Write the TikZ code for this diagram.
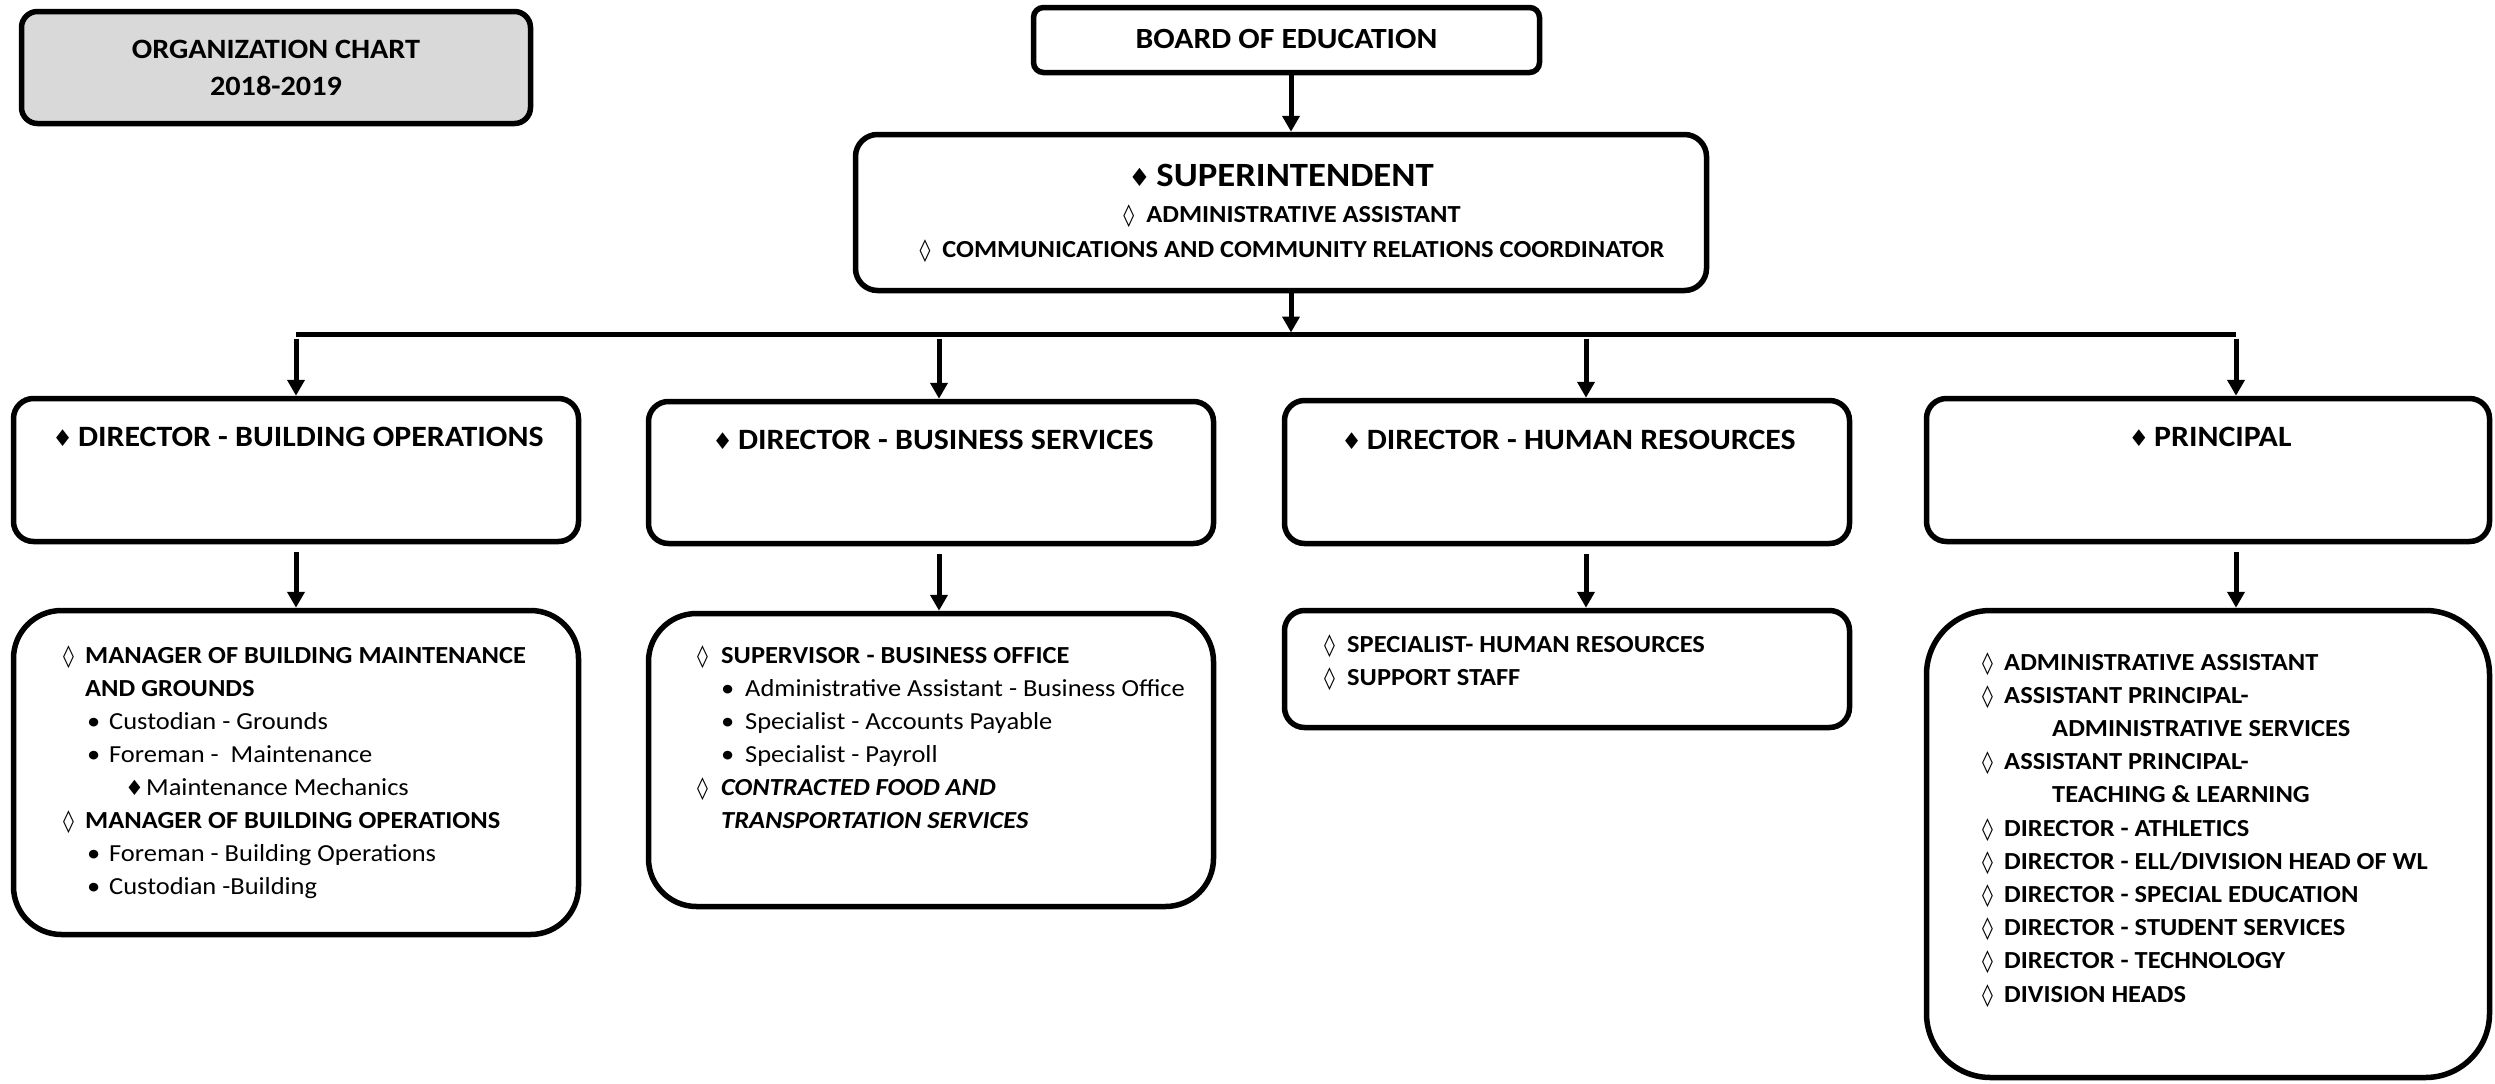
\documentclass[tikz,border=0pt]{standalone}
\usepackage{fontspec}
\setmainfont{Carlito}[FakeStretch=1.08]
\newfontfamily\symf{DejaVu Sans}
\usetikzlibrary{arrows.meta,calc}
\definecolor{boxgray}{HTML}{D9D9D9}
\newcommand{\fsz}[1]{\fontsize{#1}{#1}\selectfont}
\newcommand{\lz}{{\symf\fsz{22}◊}}
\newcommand{\bdm}[1]{{\symf\fsz{#1}♦}}
\tikzset{
  box/.style={draw, line width=5.5pt, rounded corners=#1, inner sep=0pt, fill=white},
  arr/.style={line width=5pt, -{Triangle[width=17pt,length=16pt]}},
  ctr/.style={inner sep=0pt, anchor=base},
  row/.style={inner sep=0pt, anchor=base west, font=\fsz{24.5}},
}
\begin{document}
\begin{tikzpicture}[x=1pt,y=-1pt]
\useasboundingbox (0,0) rectangle (2495,1084);
% boxes
\node[box=16pt, fill=boxgray, minimum width=509pt, minimum height=112pt] (org) at (276,67.5) {};
\node[box=10pt, minimum width=506pt, minimum height=65pt] (board) at (1286.5,40) {};
\node[box=22pt, minimum width=851pt, minimum height=156pt] (super) at (1281,212.5) {};
\node[box=20pt, minimum width=565pt, minimum height=143pt] (bo2) at (296,470) {};
\node[box=20pt, minimum width=565pt, minimum height=142pt] (bs2) at (931,472.5) {};
\node[box=20pt, minimum width=565pt, minimum height=143pt] (hr2) at (1567,472) {};
\node[box=20pt, minimum width=563pt, minimum height=143pt] (pr2) at (2208,470) {};
\node[box=48pt, minimum width=565pt, minimum height=324pt] (bo3) at (296,772.5) {};
\node[box=48pt, minimum width=565pt, minimum height=293pt] (bs3) at (931,760) {};
\node[box=20pt, minimum width=565pt, minimum height=117pt] (hr3) at (1567,669) {};
\node[box=64pt, minimum width=563pt, minimum height=467pt] (pr3) at (2208,844) {};
% connectors
\coordinate (xm) at (1291,0);
\coordinate (xa) at (296,0);
\coordinate (xb) at (939,0);
\coordinate (xc) at (1586,0);
\coordinate (xd) at (2236,0);
\coordinate (barL) at (296,334.5);
\coordinate (barR) at (2236,334.5);
\draw[arr] (xm |- board.south) -- (xm |- super.north);
\draw[arr] (xm |- super.south) -- ($(xm |- barL)+(0,-2)$);
\draw[line width=5pt] (barL) -- (barR);
\foreach \c/\t/\b in {xa/bo2/bo3, xb/bs2/bs3, xc/hr2/hr3, xd/pr2/pr3}{
  \draw[arr] ($(\c |- barL)+(0,4)$) -- (\c |- \t.north);
  \draw[arr] ($(\c |- \t.south)+(0,8)$) -- (\c |- \b.north);
}
% texts
\node[ctr, font=\fsz{28}\bfseries] (orgt1) at (276,58) {ORGANIZATION CHART};
\node[ctr, font=\fsz{28}\bfseries] (orgt2) at (276,95) {2018-2019};
\node[ctr, font=\fsz{29.3}\bfseries] (boardt) at (1286.5,48) {BOARD OF EDUCATION};
\node[ctr, font=\fsz{34}\bfseries] (supt) at (1281,186) {\bdm{25}\,SUPERINTENDENT};
\node[ctr, font=\fsz{24.5}\bfseries] (supa) at (1292,222) {\lz\ \ ADMINISTRATIVE ASSISTANT};
\node[ctr, font=\fsz{24.5}\bfseries] (supc) at (1292,257) {\lz\ \ COMMUNICATIONS AND COMMUNITY RELATIONS COORDINATOR};
\node[ctr, font=\fsz{29.5}\bfseries] (bot) at (298,446) {\bdm{23}\,DIRECTOR - BUILDING OPERATIONS};
\node[ctr, font=\fsz{29.5}\bfseries] (bst) at (933,449) {\bdm{23}\,DIRECTOR - BUSINESS SERVICES};
\node[ctr, font=\fsz{29.5}\bfseries] (hrt) at (1568.5,449) {\bdm{23}\,DIRECTOR - HUMAN RESOURCES};
\node[ctr, font=\fsz{29.5}\bfseries] (prt) at (2210,446) {\bdm{23}\,PRINCIPAL};
% building operations list
\node[row] (bo1) at (63,663) {\makebox[22pt][l]{\lz}\textbf{MANAGER OF BUILDING MAINTENANCE}};
\node[row] (bo2t) at (85,696) {\textbf{AND GROUNDS}};
\node[row] (bo3t) at (87,729) {\makebox[22pt][l]{•}Custodian - Grounds};
\node[row] (bo4t) at (87,762) {\makebox[22pt][l]{•}Foreman -\ \ Maintenance};
\node[row] (bo5t) at (125,795) {\makebox[21pt][l]{\bdm{21}}Maintenance Mechanics};
\node[row] (bo6t) at (63,828) {\makebox[22pt][l]{\lz}\textbf{MANAGER OF BUILDING OPERATIONS}};
\node[row] (bo7t) at (87,861) {\makebox[22pt][l]{•}Foreman - Building Operations};
\node[row] (bo8t) at (87,894) {\makebox[22pt][l]{•}Custodian -Building};
% business services list
\node[row] (bs1t) at (697,663) {\makebox[24pt][l]{\lz}\textbf{SUPERVISOR - BUSINESS OFFICE}};
\node[row] (bs2t) at (721,696) {\makebox[24pt][l]{•}Administrative Assistant - Business Office};
\node[row] (bs3t) at (721,729) {\makebox[24pt][l]{•}Specialist - Accounts Payable};
\node[row] (bs4t) at (721,762) {\makebox[24pt][l]{•}Specialist - Payroll};
\node[row] (bs5t) at (697,795) {\makebox[24pt][l]{\lz}\textbf{\textit{CONTRACTED FOOD AND}}};
\node[row] (bs6t) at (721,828) {\textbf{\textit{TRANSPORTATION SERVICES}}};
% human resources list
\node[row] (hr1t) at (1324,652) {\makebox[23pt][l]{\lz}\textbf{SPECIALIST- HUMAN RESOURCES}};
\node[row] (hr2t) at (1324,685) {\makebox[23pt][l]{\lz}\textbf{SUPPORT STAFF}};
% principal list
\node[row] (pr1t) at (1982,670) {\makebox[22pt][l]{\lz}\textbf{ADMINISTRATIVE ASSISTANT}};
\node[row] (pr2t) at (1982,703.2) {\makebox[22pt][l]{\lz}\textbf{ASSISTANT PRINCIPAL-}};
\node[row] (pr3t) at (2052,736.4) {\textbf{ADMINISTRATIVE SERVICES}};
\node[row] (pr4t) at (1982,769.6) {\makebox[22pt][l]{\lz}\textbf{ASSISTANT PRINCIPAL-}};
\node[row] (pr5t) at (2052,802.8) {\textbf{TEACHING \& LEARNING}};
\node[row] (pr6t) at (1982,836) {\makebox[22pt][l]{\lz}\textbf{DIRECTOR - ATHLETICS}};
\node[row] (pr7t) at (1982,869.2) {\makebox[22pt][l]{\lz}\textbf{DIRECTOR - ELL/DIVISION HEAD OF WL}};
\node[row] (pr8t) at (1982,902.4) {\makebox[22pt][l]{\lz}\textbf{DIRECTOR - SPECIAL EDUCATION}};
\node[row] (pr9t) at (1982,935.6) {\makebox[22pt][l]{\lz}\textbf{DIRECTOR - STUDENT SERVICES}};
\node[row] (pr10t) at (1982,968.8) {\makebox[22pt][l]{\lz}\textbf{DIRECTOR - TECHNOLOGY}};
\node[row] (pr11t) at (1982,1002) {\makebox[22pt][l]{\lz}\textbf{DIVISION HEADS}};
\end{tikzpicture}
\end{document}
